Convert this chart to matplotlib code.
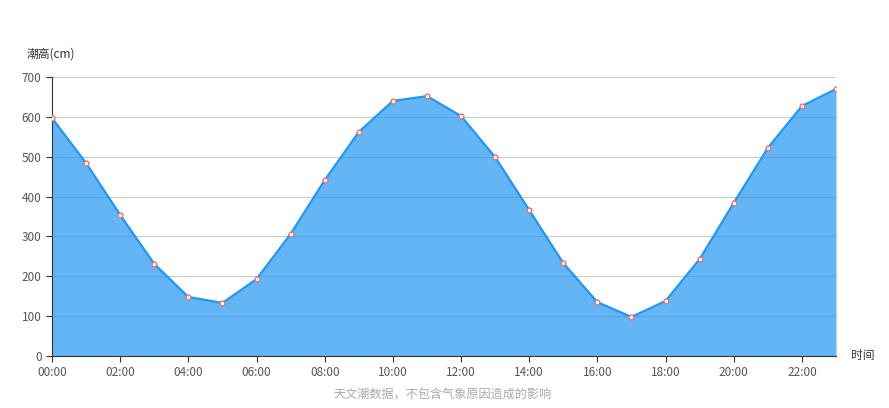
import numpy as np
import matplotlib
matplotlib.use("Agg")
import matplotlib.pyplot as plt

plt.rcParams['font.family'] = ['Noto Sans CJK SC', 'DejaVu Sans']

hours = list(range(24))
tide_cm = [597, 484, 354, 231, 148, 133, 193, 306, 441, 562, 640, 652,
           602, 499, 366, 233, 135, 98, 138, 243, 384, 522, 627, 670]
tick_hours = list(range(0, 24, 2))
tick_labels = ['%02d:00' % h for h in tick_hours]

fig = plt.figure(figsize=(8.89, 4.08), dpi=100)
ax = fig.add_axes([52 / 889, 52 / 408, (836 - 52) / 889, (356 - 77) / 408])

# grid under the translucent fill
ax.set_axisbelow(True)
ax.yaxis.grid(True, color='#cccccc', linewidth=0.8)

ax.fill_between(hours, tide_cm, 0, color='#2196F3', alpha=0.7, linewidth=0, zorder=2)
ax.plot(hours, tide_cm, color='#2196F3', linewidth=1.6, zorder=3)
ax.scatter(hours, tide_cm, s=12, facecolor='white', edgecolor='#e57373', linewidth=1.0, zorder=4)

ax.set_xlim(0, 23)
ax.set_ylim(0, 700)
ax.set_xticks(tick_hours)
ax.set_xticklabels(tick_labels)
ax.set_yticks(range(0, 701, 100))

for side in ['top', 'right']:
    ax.spines[side].set_visible(False)
ax.spines['left'].set_color('#333333')
ax.spines['bottom'].set_color('#333333')
ax.tick_params(axis='both', colors='#333333', labelcolor='#555555', labelsize=8.5,
               length=4, width=0.8, direction='out')

fig.text(27 / 889, 1 - 54 / 408, '潮高(cm)', fontsize=8.5, color='#333333', va='center', ha='left')
fig.text(851 / 889, 1 - 356 / 408, '时间', fontsize=8.5, color='#333333', va='center', ha='left')
fig.text(443 / 889, 1 - 394 / 408, '天文潮数据，不包含气象原因造成的影响', fontsize=8.7,
         color='#aaaaaa', va='center', ha='center')

fig.savefig('out.png', dpi=100)
